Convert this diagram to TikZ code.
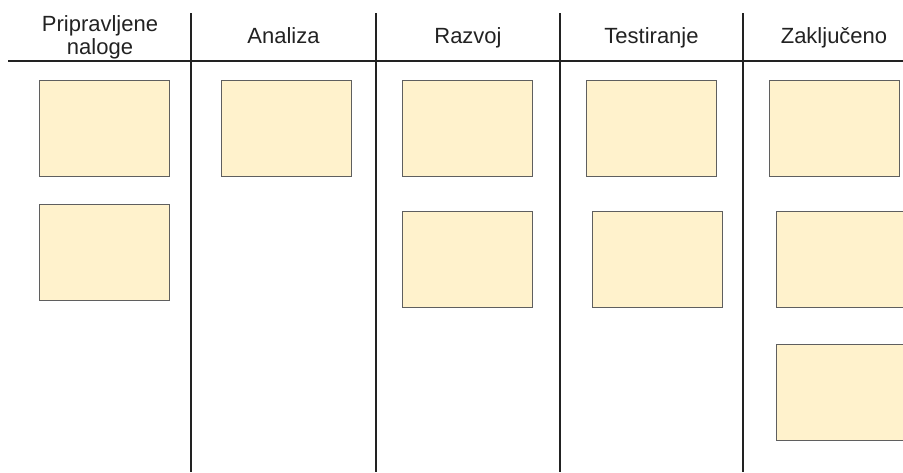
\documentclass[tikz,border=0pt]{standalone}
\usepackage{fontspec}
\setmainfont{Liberation Sans}
\definecolor{cardfill}{HTML}{FFF2CC}
\definecolor{cardline}{HTML}{5F5F5F}
\definecolor{ruleink}{HTML}{222222}
\begin{document}
\begin{tikzpicture}[x=1pt,y=-1pt,
  card/.style={draw=cardline, fill=cardfill, line width=1pt, inner sep=0pt,
    minimum width=130pt, minimum height=95.5pt, anchor=north west},
  head/.style={font=\fontsize{22}{23}\selectfont, text=ruleink, inner sep=0pt, anchor=base},
  divider/.style={draw=ruleink, line width=2pt}]
  \clip (0,0) rectangle (903,472);
  % board header line and column dividers
  \draw[divider] (8,60.5) -- (903,60.5);
  \foreach \x in {191,376,560,743}
    \draw[divider] (\x,13) -- (\x,472);
  % column titles
  \node[head, align=center, anchor=center] (h1) at (100,37.5) {Pripravljene\\naloge};
  \node[head] (h2) at (283.5,43) {Analiza};
  \node[head] (h3) at (468,43) {Razvoj};
  \node[head] (h4) at (651.5,43) {Testiranje};
  \node[head] (h5) at (834,43) {Zaključeno};
  % task cards
  \node[card] (p1) at (39,80) {};
  \node[card] (p2) at (39,204) {};
  \node[card] (a1) at (221,80) {};
  \node[card] (r1) at (402,80) {};
  \node[card] (r2) at (402,211) {};
  \node[card] (t1) at (586,80) {};
  \node[card] (t2) at (592,211) {};
  \node[card] (z1) at (769,80) {};
  \node[card] (z2) at (776,211) {};
  \node[card] (z3) at (776,344) {};
\end{tikzpicture}
\end{document}
